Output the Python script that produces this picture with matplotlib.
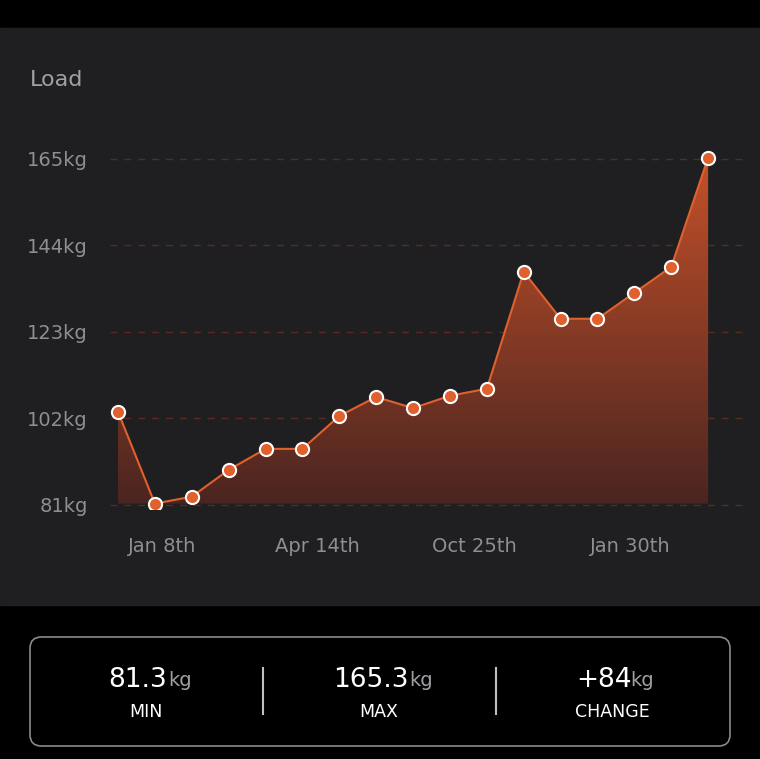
import numpy as np
import matplotlib.pyplot as plt
from matplotlib.patches import FancyBboxPatch, Rectangle
from matplotlib.lines import Line2D
from matplotlib.colors import LinearSegmentedColormap

# data
loads = [103.6, 81.3, 83.0, 89.5, 94.6, 94.6, 102.6, 107.2, 104.5, 107.5, 109.2,
         137.6, 126.2, 126.2, 132.5, 138.8, 165.3]
y_ticks = [81, 102, 123, 144, 165]
x_tick_pos = [1.2, 5.4, 9.65, 13.9]
x_tick_labels = ['Jan 8th', 'Apr 14th', 'Oct 25th', 'Jan 30th']
stats = [('81.3', 'kg', 'MIN'), ('165.3', 'kg', 'MAX'), ('+84', 'kg', 'CHANGE')]

W, H = 760, 759
fig = plt.figure(figsize=(7.6, 7.59), dpi=100)
fig.patch.set_facecolor('black')

# panel background
fig.patches.append(Rectangle((0, 1 - 605 / H), 1, (605 - 28) / H,
                             transform=fig.transFigure, color='#1f1f21', zorder=-5))

ax = fig.add_axes([110 / W, 1 - 509 / H, 635 / W, (509 - 138.4) / H])
ax.set_zorder(5)
ax.set_facecolor('none')
x = np.arange(len(loads))

for t in y_ticks:
    ax.axhline(t, color='#5a2a22', lw=1, ls=(0, (5, 5)), zorder=1)

# gradient fill
poly = ax.fill_between(x, loads, 81.3, color='none')
grad = np.linspace(0, 1, 256).reshape(-1, 1)
cmap = LinearSegmentedColormap.from_list('g', ['#4a2520', '#c4502a'])
im = ax.imshow(grad, cmap=cmap, aspect='auto', origin='lower',
               extent=[0, 16, 81.3, 165.3], zorder=2)
im.set_clip_path(poly.get_paths()[0], transform=ax.transData)
ax.set_xlim(-0.217, 17.0)
ax.set_ylim(80, 170)

ax.plot(x, loads, color='#e0602e', lw=1.5, zorder=3)
ax.scatter(x, loads, s=90, facecolor='#e0602e', edgecolor='white', lw=1.5, zorder=4)

ax.set_yticks(y_ticks)
ax.set_yticklabels([f'{t}kg' for t in y_ticks])
ax.set_xticks(x_tick_pos)
ax.set_xticklabels(x_tick_labels)
ax.tick_params(length=0, colors='#8e8e93', labelsize=14)
ax.tick_params(axis='x', pad=20)
ax.tick_params(axis='y', pad=16)
for s in ax.spines.values():
    s.set_visible(False)

fig.text(30 / W, 1 - 80 / H, 'Load', color='#a0a0a5', fontsize=16, va='center')

# stats box
fig.patches.append(FancyBboxPatch((30 / W, 1 - 746 / H), 700 / W, 109 / H,
                                  boxstyle='round,pad=0,rounding_size=0.015',
                                  transform=fig.transFigure, facecolor='black',
                                  edgecolor='#8a8a8e', lw=1.2))
centers = [146, 379, 612]
for cx, (val, unit, lab) in zip(centers, stats):
    fig.text((cx - 8) / W, 1 - 680 / H, val, color='white', fontsize=19,
             ha='center', va='center')
    off = {'81.3': 30, '165.3': 38, '+84': 26}[val]
    fig.text((cx - 8 + off) / W, 1 - 681 / H, unit, color='#a0a0a5', fontsize=14,
             ha='left', va='center')
    fig.text(cx / W, 1 - 712 / H, lab, color='white', fontsize=12.5,
             ha='center', va='center')
for sx in [263, 496]:
    fig.lines.append(Line2D([sx / W, sx / W], [1 - 714 / H, 1 - 668 / H],
                            transform=fig.transFigure, color='#c0c0c0', lw=1.5))

fig.savefig('out.png', dpi=100, facecolor=fig.get_facecolor())
